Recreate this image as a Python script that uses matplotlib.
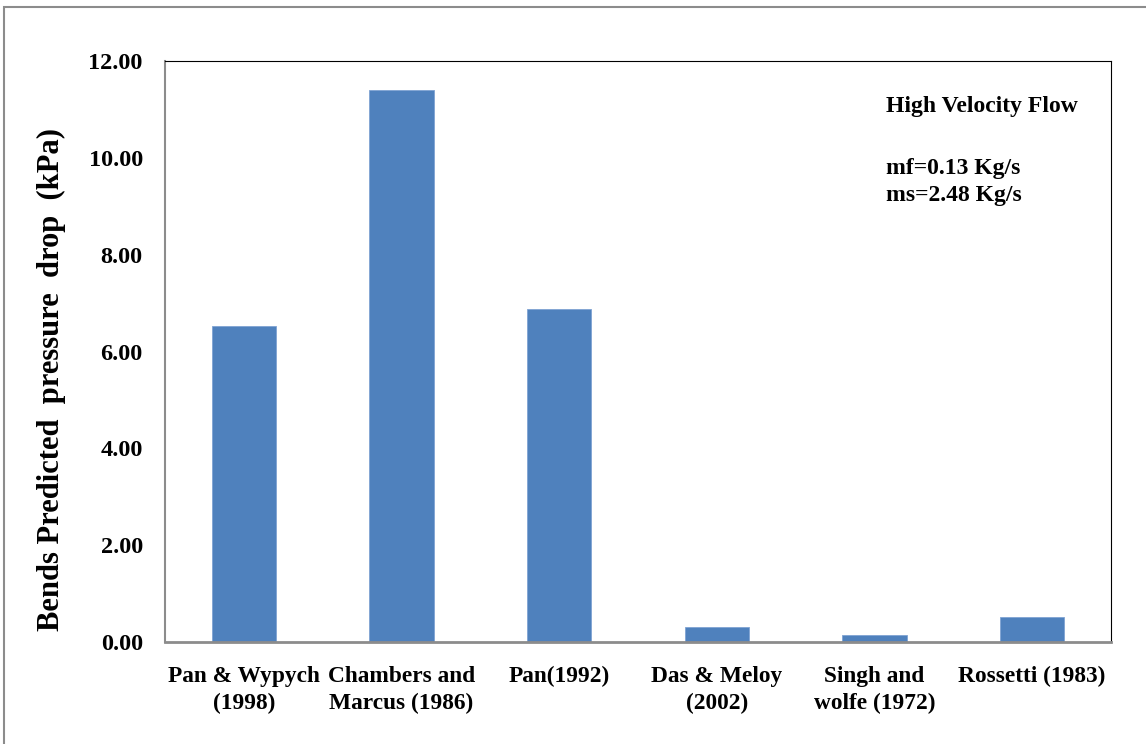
import matplotlib.pyplot as plt
import numpy as np

# bend pressure drop predicted by each correlation (kPa)
labels = ['Pan & Wypych\n(1998)', 'Chambers and\nMarcus (1986)', 'Pan(1992)',
          'Das & Meloy\n(2002)', 'Singh and\nwolfe (1972)', 'Rossetti (1983)']
drop_kpa = [6.52, 11.40, 6.87, 0.31, 0.15, 0.52]
yticks = [0, 2, 4, 6, 8, 10, 12]

plt.rcParams['font.family'] = ['Liberation Serif', 'DejaVu Serif']
plt.rcParams['font.weight'] = 'bold'

fig = plt.figure(figsize=(11.46, 7.44), dpi=100)
ax = fig.add_axes([165/1146, 1 - 642/744, 946/1146, 581/744])

x = np.arange(len(labels))
ax.bar(x, drop_kpa, width=0.41, color='#4F81BD', edgecolor='#7FA3D3', linewidth=0.6)

ax.set_xlim(-0.5, len(labels) - 0.5)
ax.set_ylim(0, 12)
ax.set_yticks(yticks)
ax.set_yticklabels([f'{v:.2f}' for v in yticks], fontsize=17.5, fontweight='bold')
ax.set_xticks(x)
ax.set_xticklabels(labels, fontsize=16.8, fontweight='bold', linespacing=1.4)
ax.tick_params(axis='both', length=0)
ax.tick_params(axis='y', pad=16)
ax.tick_params(axis='x', pad=17)

ax.spines['left'].set_color('#8c8c8c')
ax.spines['bottom'].set_color('#8c8c8c')
ax.spines['left'].set_linewidth(1.5)
ax.spines['bottom'].set_linewidth(2)
ax.spines['top'].set_color('black')
ax.spines['right'].set_color('black')

ax.set_ylabel('Bends Predicted  pressure  drop  (kPa)', fontsize=22,
              fontweight='bold')
ax.yaxis.set_label_coords(-0.105, 0.451)

ax.text(0.762, 0.922, 'High Velocity Flow', transform=ax.transAxes,
        fontsize=17, fontweight='bold', va='center')
ax.text(0.762, 0.815, 'mf=0.13 Kg/s', transform=ax.transAxes,
        fontsize=17, fontweight='bold', va='center')
ax.text(0.762, 0.769, 'ms=2.48 Kg/s', transform=ax.transAxes,
        fontsize=17, fontweight='bold', va='center')

# outer frame around the chart
frame = plt.Rectangle((4/1146, -0.01), 1.01, 1 - 7/744 + 0.01, transform=fig.transFigure,
                      fill=False, edgecolor='#8c8c8c', linewidth=1.5)
fig.patches.append(frame)

fig.savefig('out.png', dpi=100)
